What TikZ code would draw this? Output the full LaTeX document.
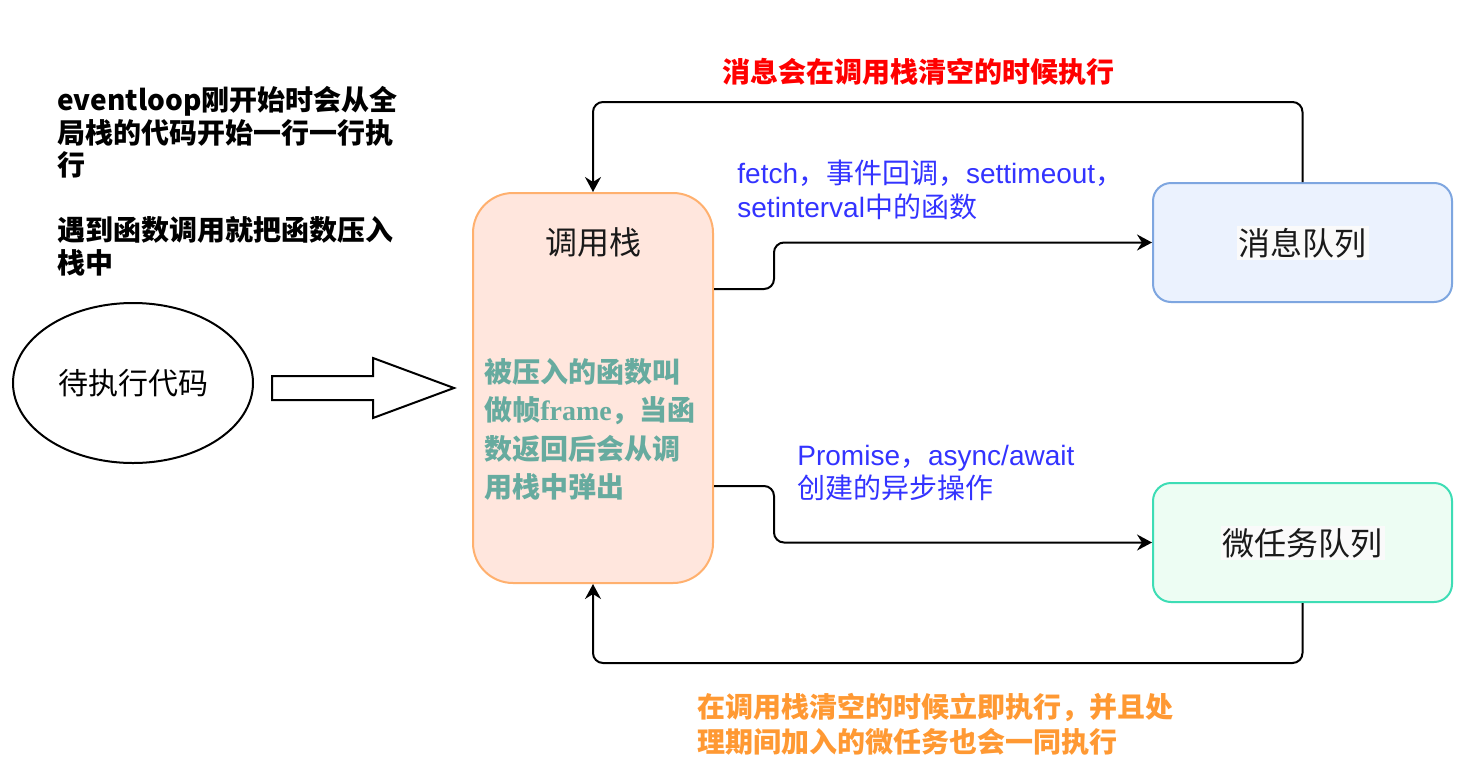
\documentclass[tikz,border=0pt]{standalone}
\usepackage{fontspec}
\setmainfont{Noto Sans CJK SC}
\newfontfamily\latf{Liberation Sans}
\newfontfamily\serf{Liberation Serif}
\usetikzlibrary{shapes.geometric,arrows.meta}
\definecolor{stackfill}{HTML}{FFE6DD}
\definecolor{stackdraw}{HTML}{FFB06E}
\definecolor{msgfill}{HTML}{EBF2FE}
\definecolor{msgdraw}{HTML}{7EA6E0}
\definecolor{microfill}{HTML}{EDFDF3}
\definecolor{microdraw}{HTML}{3DDDB5}
\definecolor{greentxt}{HTML}{67AB9F}
\definecolor{bluetxt}{HTML}{3333FF}
\definecolor{orangetxt}{HTML}{FF9933}
\definecolor{redtxt}{HTML}{FF0000}
\definecolor{lblbg}{HTML}{FAFAFA}
\begin{document}
\begin{tikzpicture}[x=0.5pt,y=-0.5pt,
  queuebox/.style={draw, line width=1pt, rounded corners=9pt, minimum width=149.5pt, minimum height=59.5pt, inner sep=0pt},
  boxlbl/.style={font=\fontsize{16pt}{19pt}\selectfont, text=black!90, fill=lblbg, inner sep=1pt},
  conn/.style={draw, line width=1pt, rounded corners=5pt, -{Stealth[length=7.5pt,width=8pt,inset=2.5pt]}},
  note/.style={anchor=west, align=left, inner sep=0pt},
]
\fill[white] (0,0) rectangle (1466,776);
\useasboundingbox (0,0) rectangle (1466,776);

% left explanatory text
\node[note, font=\bfseries\fontsize{14pt}{16.25pt}\selectfont] (intro) at (57,181.25)
  {eventloop刚开始时会从全\\局栈的代码开始一行一行执\\行\\[16.25pt]遇到函数调用就把函数压入\\栈中};

% code to run
\node[draw, ellipse, line width=1pt, minimum width=120pt, minimum height=80pt, inner sep=0pt,
  font=\fontsize{15pt}{18pt}\selectfont] (code) at (133,383) {待执行代码};

% block arrow
\draw[line width=1pt, fill=white] (272,376) -- (373,376) -- (373,358) -- (454,388) -- (373,418) -- (373,400) -- (272,400) -- cycle;

% call stack
\node[draw=stackdraw, fill=stackfill, line width=1pt, rounded corners=20pt,
  minimum width=120pt, minimum height=195pt, inner sep=0pt] (stack) at (593,388) {};
\node[font=\fontsize{16pt}{19pt}\selectfont, text=black!90] (stacklbl) at (593,242) {调用栈};
\node[note, text=greentxt, font=\bfseries\fontsize{14pt}{19.15pt}\selectfont] (frames) at (484,429.5)
  {被压入的函数叫\\做帧{\serf frame}，当函\\数返回后会从调\\用栈中弹出};

% queues
\node[queuebox, draw=msgdraw, fill=msgfill] (msg) at (1302.5,242.5) {};
\node[boxlbl] (msglbl) at (1302.5,243) {消息队列};
\node[queuebox, draw=microdraw, fill=microfill] (micro) at (1302.5,542.5) {};
\node[boxlbl] (microlbl) at (1302.5,543) {微任务队列};

% connectors
\draw[conn] (msg.north) -- ++(0,-80) -| (stack.north);
\draw[conn] ([yshift=-48.5pt]stack.north east) -- ++(60,0) |- (msg.west);
\draw[conn] ([yshift=49pt]stack.south east) -- ++(60,0) |- (micro.west);
\draw[conn] (micro.south) -- ++(0,60) -| (stack.south);

% labels
\node[note, text=redtxt, font=\bfseries\fontsize{14pt}{17pt}\selectfont] (redlbl) at (722,72)
  {消息会在调用栈清空的时候执行};
\node[note, text=bluetxt, font=\fontsize{14pt}{17pt}\selectfont] (fetchlbl) at (737,190)
  {{\latf fetch}，事件回调，{\latf settimeout}，\\{\latf setinterval}中的函数};
\node[note, text=bluetxt, font=\fontsize{14pt}{16.5pt}\selectfont] (promlbl) at (797,473.5)
  {{\latf Promise}，{\latf async/await}\\创建的异步操作};
\node[note, text=orangetxt, font=\bfseries\fontsize{14pt}{17.5pt}\selectfont] (orglbl) at (697,724.5)
  {在调用栈清空的时候立即执行，并且处\\理期间加入的微任务也会一同执行};
\end{tikzpicture}
\end{document}
